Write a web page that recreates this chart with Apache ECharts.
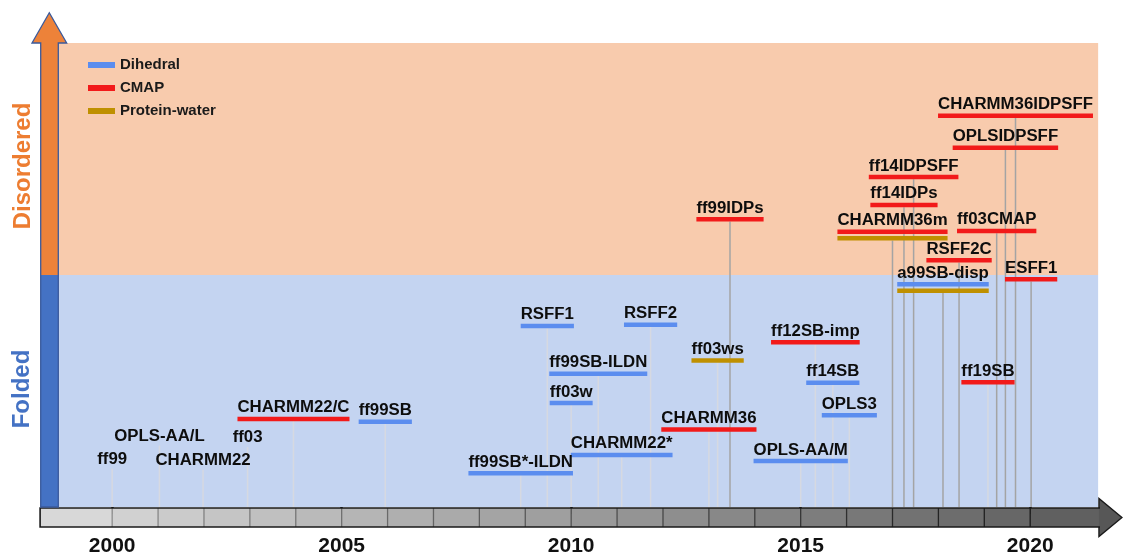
<!DOCTYPE html>
<html>
<head>
<meta charset="utf-8">
<script src="https://cdn.jsdelivr.net/npm/echarts@6/dist/echarts.min.js"></script>
<style>html,body{margin:0;padding:0;background:#fff}#main{width:1123px;height:557px}</style>
</head>
<body>
<div id="main"></div>
<script>
// force fields: label, release year (x), height above the timeline (y), bar kinds
var names = ['ff99', 'OPLS-AA/L', 'CHARMM22', 'ff03', 'CHARMM22/C', 'ff99SB', 'ff99SB*-ILDN', 'RSFF1',
  'ff03w', 'ff99SB-ILDN', 'CHARMM22*', 'RSFF2', 'CHARMM36', 'ff03ws', 'ff99IDPs', 'OPLS-AA/M',
  'ff12SB-imp', 'ff14SB', 'OPLS3', 'CHARMM36m', 'ff14IDPs', 'ff14IDPSFF', 'a99SB-disp', 'RSFF2C',
  'ff19SB', 'ff03CMAP', 'OPLSIDPSFF', 'CHARMM36IDPSFF', 'ESFF1'];
var years = [2000.0, 2001.03, 2001.98, 2002.95, 2003.95, 2005.95, 2008.9, 2009.48,
  2010.0, 2010.59, 2011.1, 2011.73, 2013.0, 2013.19, 2013.46, 2015.0,
  2015.32, 2015.7, 2016.06, 2017.0, 2017.25, 2017.46, 2018.1, 2018.45,
  2019.08, 2019.27, 2019.46, 2019.68, 2020.02];
var levels = [0.78, 1.28, 0.76, 1.25, 1.90, 1.84, 0.73, 3.90,
  2.24, 2.87, 1.12, 3.93, 1.67, 3.16, 6.20, 0.99,
  3.55, 2.68, 1.98, 5.93, 6.51, 7.11, 4.80, 5.32,
  2.69, 5.95, 7.74, 8.43, 4.91];
// D = Dihedral, C = CMAP, W = Protein-water
var bars = ['', '', '', '', 'C', 'D', 'D', 'D',
  'D', 'D', 'D', 'D', 'C', 'W', 'C', 'D',
  'C', 'D', 'D', 'CW', 'C', 'C', 'DW', 'C',
  'C', 'C', 'C', 'C', 'C'];

var legendNames = ['Dihedral', 'CMAP', 'Protein-water'];
var kindCodes = ['D', 'C', 'W'];
var kindColors = ['#5B8DEF', '#F21A1A', '#BF9000'];

var regionNames = ['Folded', 'Disordered'];
var regionLow = [0, 5];
var regionHigh = [5, 10];
var regionColors = ['#C4D4F1', '#F8CBAD'];

var tickYears = [2000, 2005, 2010, 2015, 2020];
var timelineStart = 1998.43, timelineEnd = 2021.52;
var bgStart = 1998.82, bgEnd = 2021.48;

var FONT = 'bold 16px "Liberation Sans", Arial, Helvetica, sans-serif';
var FAMILY = '"Liberation Sans", Arial, Helvetica, sans-serif';
var SX = 1.05;       // labels are a bit wide in the original
var BAR_H = 4.5, BAR_STEP = 6.5;

var measureCtx = document.createElement('canvas').getContext('2d');
var widthCache = {};
function textWidth(s) {
  if (widthCache[s] == null) {
    measureCtx.font = FONT;
    widthCache[s] = measureCtx.measureText(s).width;
  }
  return widthCache[s];
}

function lerpGray(a, b, t) {
  var v = Math.round(a + (b - a) * t);
  return 'rgb(' + v + ',' + v + ',' + v + ')';
}

var myChart = echarts.init(document.getElementById('main'));

var allItems = names.map(function (n, i) { return [years[i], levels[i], i]; });

function renderRegion(params, api) {
  var i = params.dataIndex;
  var a = api.coord([bgStart, regionHigh[i]]);
  var b = api.coord([bgEnd, regionLow[i]]);
  return { type: 'rect', shape: { x: a[0], y: a[1], width: b[0] - a[0], height: b[1] - a[1] },
    style: { fill: regionColors[i] } };
}

function renderTimeline(params, api) {
  var p0 = api.coord([timelineStart, 0]);
  var p1 = api.coord([timelineEnd, 0]);
  var top = p0[1] + 1, h = 19;
  var span = p1[0] - p0[0];
  var edges = [timelineStart];
  for (var y = 2000; y <= 2020; y++) edges.push(y);
  edges.push(timelineEnd);
  var children = [];
  for (var k = 0; k < edges.length - 1; k++) {
    var xa = api.coord([edges[k], 0])[0];
    var xb = api.coord([edges[k + 1], 0])[0];
    var t = ((xa + xb) / 2 - p0[0]) / span;
    children.push({ type: 'rect', shape: { x: xa, y: top, width: xb - xa, height: h },
      style: { fill: lerpGray(220, 92, t) } });
  }
  for (var k2 = 1; k2 < edges.length - 1; k2++) {
    var xd = api.coord([edges[k2], 0])[0];
    var td = (xd - p0[0]) / span;
    children.push({ type: 'line', shape: { x1: xd, y1: top, x2: xd, y2: top + h },
      style: { stroke: lerpGray(150, 15, td), lineWidth: 1.3 } });
  }
  var cy = top + h / 2;
  var tipX = p1[0] + 22;
  children.push({ type: 'polygon', shape: { points: [[p1[0] - 1, cy - 19], [tipX, cy], [p1[0] - 1, cy + 19]] },
    style: { fill: '#575757' } });
  children.push({ type: 'polyline', shape: { points: [[p1[0] - 1, top], [p1[0] - 1, cy - 19], [tipX, cy],
    [p1[0] - 1, cy + 19], [p1[0] - 1, top + h]] }, style: { stroke: '#1a1a1a', lineWidth: 1.4, fill: null } });
  children.push({ type: 'polyline', shape: { points: [[p1[0], top], [p0[0], top], [p0[0], top + h], [p1[0], top + h]] },
    style: { stroke: '#1a1a1a', lineWidth: 1.6, fill: null } });
  return { type: 'group', children: children };
}

function renderDrop(params, api) {
  var i = api.value(2);
  var pt = api.coord([api.value(0), api.value(1)]);
  var base = api.coord([api.value(0), 0]);
  var n = bars[i].length;
  var y1 = pt[1] + (n ? (n - 1) * BAR_STEP + BAR_H / 2 : -2);
  return { type: 'line', shape: { x1: pt[0], y1: y1, x2: pt[0], y2: base[1] },
    style: { stroke: levels[i] > 4.5 ? '#A4A4A4' : '#D6D9E1', lineWidth: 1.5 } };
}

function renderLabel(params, api) {
  var i = api.value(2);
  var pt = api.coord([api.value(0), api.value(1)]);
  return { type: 'text', x: pt[0], y: pt[1] - 11, scaleX: SX,
    style: { text: names[i], font: FONT, fill: '#0d0d0d', align: 'center', verticalAlign: 'middle' } };
}

function makeBarRender(k) {
  return function (params, api) {
    var i = api.value(2);
    var pos = api.value(3);
    var pt = api.coord([api.value(0), api.value(1)]);
    var w = textWidth(names[i]) * SX;
    return { type: 'rect', shape: { x: pt[0] - w / 2, y: pt[1] + pos * BAR_STEP - BAR_H / 2, width: w, height: BAR_H },
      style: { fill: kindColors[k] } };
  };
}

var barSeries = kindCodes.map(function (code, k) {
  var data = [];
  names.forEach(function (n, i) {
    var pos = bars[i].indexOf(code);
    if (pos >= 0) data.push([years[i], levels[i], i, pos]);
  });
  return {
    name: legendNames[k],
    type: 'custom',
    z: 4,
    itemStyle: { color: kindColors[k] },
    encode: { x: 0, y: 1 },
    renderItem: makeBarRender(k),
    data: data
  };
});

var option = {
  animation: false,
  grid: { left: 2, right: 1, top: 43, bottom: 30 },
  xAxis: {
    type: 'value',
    min: 1997.6,
    max: 2022,
    axisLine: { show: false },
    splitLine: { show: false },
    axisTick: { show: true, customValues: tickYears, length: 7, lineStyle: { color: '#111', width: 2.5 } },
    axisLabel: {
      customValues: tickYears, margin: 9, fontSize: 21, fontWeight: 'bold', color: '#111', fontFamily: FAMILY,
      formatter: function (v) { return String(Math.round(v)); }
    }
  },
  yAxis: { type: 'value', min: -0.43, max: 10, show: false },
  legend: {
    data: legendNames,
    orient: 'vertical',
    left: 88,
    top: 57,
    padding: 0,
    icon: 'rect',
    itemWidth: 27,
    itemHeight: 6,
    itemGap: 7,
    selectedMode: false,
    textStyle: { fontSize: 15, fontWeight: 'bold', color: '#1a1a1a', fontFamily: FAMILY, lineHeight: 16 }
  },
  graphic: [
    {
      type: 'polygon',
      z: 10,
      shape: { points: [[40.7, 507], [40.7, 43], [32, 43], [49.3, 12.7], [66.7, 43], [58.3, 43], [58.3, 507]] },
      style: {
        fill: new echarts.graphic.LinearGradient(0, 0, 0, 1, [
          { offset: 0, color: '#ED8239' }, { offset: 0.5306, color: '#ED8239' },
          { offset: 0.5306, color: '#4472C4' }, { offset: 1, color: '#4472C4' }
        ]),
        stroke: '#3A5A9C',
        lineWidth: 1.3
      }
    },
    {
      type: 'text', x: 23, y: 166, rotation: Math.PI / 2, z: 10,
      style: { text: regionNames[1], font: 'bold 24px ' + FAMILY, fill: '#ED7D31', align: 'center', verticalAlign: 'middle' }
    },
    {
      type: 'text', x: 22, y: 389, rotation: Math.PI / 2, z: 10,
      style: { text: regionNames[0], font: 'bold 24px ' + FAMILY, fill: '#4472C4', align: 'center', verticalAlign: 'middle' }
    }
  ],
  series: [
    { name: 'regions', type: 'custom', z: 1, renderItem: renderRegion, encode: { x: 0, y: 1 },
      data: regionNames.map(function (r, i) { return [bgStart, regionLow[i]]; }) },
    { name: 'drops', type: 'custom', z: 2, renderItem: renderDrop, encode: { x: 0, y: 1 }, data: allItems },
    { name: 'timeline', type: 'custom', z: 3, renderItem: renderTimeline, encode: { x: 0, y: 1 },
      data: [[timelineStart, 0]] }
  ].concat(barSeries).concat([
    { name: 'labels', type: 'custom', z: 5, renderItem: renderLabel, encode: { x: 0, y: 1 }, data: allItems }
  ])
};

myChart.setOption(option);
</script>
</body>
</html>
